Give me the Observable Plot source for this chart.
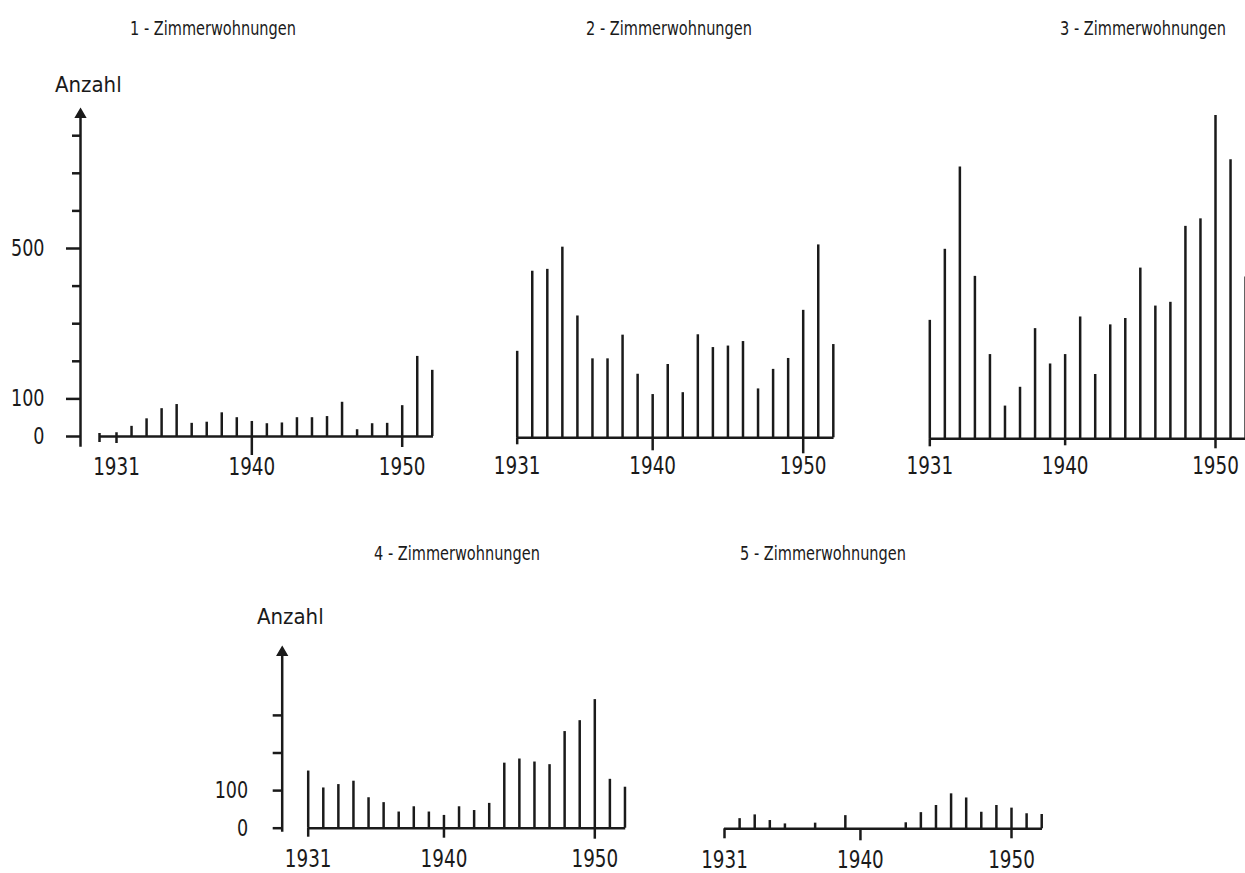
<!DOCTYPE html>
<html>
<head>
<meta charset="utf-8">
<script src="https://cdn.jsdelivr.net/npm/d3@7"></script>
<script src="https://cdn.jsdelivr.net/npm/@observablehq/plot@0.6"></script>
<style>
  html, body { margin: 0; padding: 0; background: #fff; }
  #root {
    position: relative; width: 1245px; height: 873px; overflow: hidden;
    font-family: "DejaVu Sans Condensed", "DejaVu Sans", sans-serif; font-stretch: condensed; color: #1a1a1a;
  }
  .panel { position: absolute; }
  .title { position: absolute; font-size: 19px; line-height: 1; white-space: nowrap;
           transform: translateX(-50%) scaleX(0.85); transform-origin: center; }
  .ylab { position: absolute; font-size: 22px; line-height: 1; white-space: nowrap; }
</style>
</head>
<body>
<div id="root"></div>
<script>
// ---------------- data ----------------
const years = [1931, 1932, 1933, 1934, 1935, 1936, 1937, 1938, 1939, 1940, 1941,
               1942, 1943, 1944, 1945, 1946, 1947, 1948, 1949, 1950, 1951, 1952];
const rooms1 = [10, 27, 47, 74, 85, 35, 38, 63, 50, 40, 34, 36, 50, 50, 53, 91, 18, 34, 35, 82, 213, 176];
const rooms2 = [230, 443, 448, 507, 324, 210, 210, 273, 169, 115, 195, 120, 274, 240, 244, 256, 130, 182, 211, 339, 513, 248];
const rooms3 = [315, 504, 723, 432, 224, 87, 137, 293, 199, 224, 324, 171, 303, 320, 454, 353, 363, 565, 585, 860, 742, 430];
const rooms4 = [152, 107, 116, 125, 81, 68, 43, 57, 43, 34, 57, 47, 66, 173, 184, 176, 169, 257, 286, 342, 130, 109];
const rooms5 = [0, 27, 37, 22, 13, 0, 15, 0, 35, 0, 0, 0, 16, 43, 62, 93, 82, 44, 62, 55, 40, 38];
const titles = ["1 - Zimmerwohnungen", "2 - Zimmerwohnungen", "3 - Zimmerwohnungen",
                "4 - Zimmerwohnungen", "5 - Zimmerwohnungen"];
const yAxisTitle = "Anzahl";
const xTickLabels = [1931, 1940, 1950];
const yTickLabels1 = [0, 100, 500];
const yTicksMinor1 = [200, 300, 400, 600, 700, 800];
const yTickLabels4 = [0, 100];
const yTicksMinor4 = [200, 300];

// ---------------- layout (page pixels) ----------------
const INK = "#1a1a1a";
const FONT = '"DejaVu Sans Condensed", "DejaVu Sans", sans-serif';
const PX_PER_100 = 37.6;
const TEXT_SQUEEZE = 0.85;
const panels = [
  { values: rooms1, left: 0,   top: 60,  width: 450, height: 440, base: 436,   x31: 116,   x50: 401.7,
    axisFrom: 1929.87, axisTo: 1952.08, tickLen: {1931: 7, 1940: 19, 1950: 11}, startTick: true,
    yAxis: { x: 80, top: 114, bottom: 445, labels: yTickLabels1, minor: yTicksMinor1, majorSize: 14, minorSize: 8, pad: 22 },
    labelDy: 21, title: { cx: 213, y: 19 }, ylab: { x: 55, y: 74 } },
  { values: rooms2, left: 450, top: 200, width: 410, height: 300, base: 437.3, x31: 516.7, x50: 802.7,
    axisFrom: 1931, axisTo: 1952.05, tickLen: {1931: 7, 1940: 13, 1950: 16},
    labelDy: 19, title: { cx: 669, y: 19 } },
  { values: rooms3, left: 880, top: 80,  width: 365, height: 420, base: 438.3, x31: 929.3, x50: 1215,
    axisFrom: 1931, axisTo: 1953, tickLen: {1931: 8, 1940: 7, 1950: 10},
    labelDy: 18, title: { cx: 1143, y: 19 } },
  { values: rooms4, left: 180, top: 580, width: 460, height: 293, base: 827.7, x31: 307.7, x50: 594.3,
    axisFrom: 1931, axisTo: 1952.05, tickLen: {1931: 9, 1940: 10, 1950: 11},
    yAxis: { x: 281.7, top: 652, bottom: 830, labels: yTickLabels4, minor: yTicksMinor4, majorSize: 9, minorSize: 9, pad: 25 },
    labelDy: 22, title: { cx: 457, y: 544 }, ylab: { x: 257, y: 606 } },
  { values: rooms5, left: 670, top: 740, width: 390, height: 133, base: 828.3, x31: 724,   x50: 1011,
    axisFrom: 1931, axisTo: 1952.05, tickLen: {1931: 10, 1940: 12, 1950: 10},
    labelDy: 22, title: { cx: 823, y: 544 } }
];

const root = document.getElementById("root");
const pxToUnits = px => px / PX_PER_100 * 100;

panels.forEach((p, i) => {
  const data = years.map((year, k) => ({ year, value: p.values[k] }));
  const baseLocal = p.base - p.top;
  const ya = p.yAxis;
  const marginLeft = ya ? ya.x - p.left : 0;
  const marginTop = ya ? ya.top - p.top : 0;
  const marginBottom = ya ? (p.top + p.height) - ya.bottom : 0;

  const marks = [];
  if (ya) {
    marks.push(Plot.frame({ anchor: "left", stroke: INK, strokeWidth: 2.5 }));
    marks.push(Plot.dot([0], { frameAnchor: "top-left", symbol: "triangle", r: 3.6, fill: INK, stroke: INK }));
    marks.push(Plot.axisY(ya.minor, { anchor: "left", label: null, tickSize: ya.minorSize, strokeWidth: 2.5, stroke: INK, tickFormat: () => "" }));
    marks.push(Plot.axisY(ya.labels, { anchor: "left", label: null, tickSize: ya.majorSize, tickPadding: ya.pad, strokeWidth: 2.5,
      stroke: INK, fill: INK, fontSize: 23, tickFormat: d => String(d) }));
  }
  // baseline (x axis line)
  marks.push(Plot.ruleY([0], { x1: p.axisFrom, x2: p.axisTo, stroke: INK, strokeWidth: 2.5 }));
  if (p.startTick) {
    marks.push(Plot.ruleX([p.axisFrom], { y1: pxToUnits(3), y2: -pxToUnits(6), stroke: INK, strokeWidth: 2.5 }));
  }
  // downward year ticks
  marks.push(Plot.ruleX(xTickLabels, { x: d => d, y1: 0, y2: d => -pxToUnits(p.tickLen[d]), stroke: INK, strokeWidth: 2.5 }));
  // spikes
  marks.push(Plot.ruleX(data.filter(d => d.value > 0), { x: "year", y1: 0, y2: "value", stroke: INK, strokeWidth: 2.5 }));
  // year labels
  marks.push(Plot.text(xTickLabels, { x: d => d, y: 0, dy: p.labelDy, lineAnchor: "top", fontSize: 24, fill: INK, text: d => String(d) }));

  const chart = Plot.plot({
    width: p.width,
    height: p.height,
    marginLeft, marginTop, marginBottom, marginRight: 0,
    x: { type: "linear", domain: [1931, 1950], range: [p.x31 - p.left, p.x50 - p.left], axis: null },
    y: { type: "linear", domain: [0, 100], range: [baseLocal, baseLocal - PX_PER_100], axis: null },
    style: { background: "transparent", color: INK, fontFamily: FONT },
    marks
  });
  // narrow the lettering like the typewriter original (scale around each text's anchor point)
  d3.select(chart).selectAll("text").each(function () {
    const tr = this.getAttribute("transform");
    if (tr && tr.includes("translate")) this.setAttribute("transform", tr + ` scale(${TEXT_SQUEEZE},1)`);
  });
  chart.classList.add("panel");
  chart.style.left = p.left + "px";
  chart.style.top = p.top + "px";
  root.appendChild(chart);

  const t = document.createElement("div");
  t.className = "title";
  t.textContent = titles[i];
  t.style.left = p.title.cx + "px";
  t.style.top = p.title.y + "px";
  root.appendChild(t);

  if (p.ylab) {
    const a = document.createElement("div");
    a.className = "ylab";
    a.textContent = yAxisTitle;
    a.style.left = p.ylab.x + "px";
    a.style.top = p.ylab.y + "px";
    root.appendChild(a);
  }
});
</script>
</body>
</html>
